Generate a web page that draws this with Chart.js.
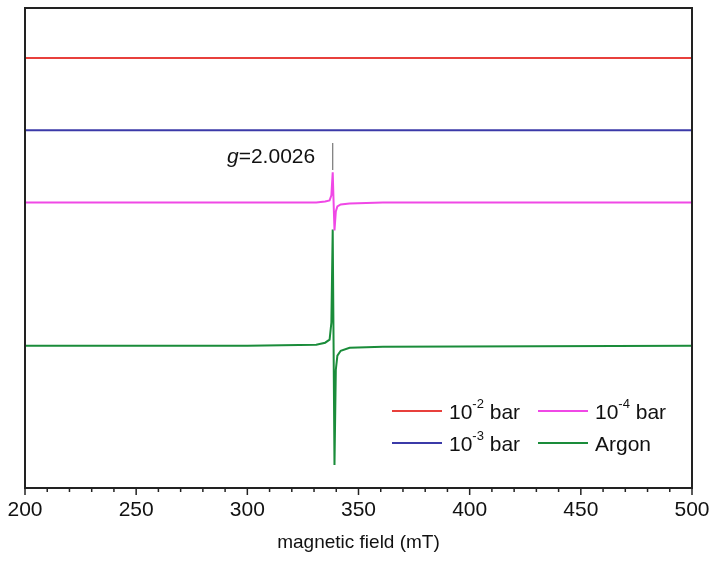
<!DOCTYPE html>
<html><head><meta charset="utf-8">
<script src="https://cdn.jsdelivr.net/npm/chart.js@4"></script>
<style>html,body{margin:0;padding:0;background:#fff}#w{width:719px;height:570px}</style>
</head><body><div id="w"><canvas id="c"></canvas></div>
<script>
const fieldX = [200, 300, 331, 335, 337, 337.8, 338.4, 338.8, 339.2, 339.8, 340.5, 342, 346, 361, 500];
const red    = [429, 429, 429, 429, 429, 429, 429, 429, 429, 429, 429, 429, 429, 429, 429];
const blue   = [357, 357, 357, 357, 357, 357, 357, 357, 357, 357, 357, 357, 357, 357, 357];
const magenta= [285, 285, 285, 286, 287, 292, 315, 285, 257, 276, 281, 283, 284, 285, 285];
const green  = [142, 142, 143, 145, 148, 165, 258, 140, 23, 118, 132, 137, 140, 141, 142];
const seriesNames = ['10-2 bar','10-3 bar','10-4 bar','Argon'];
const colors = ['#e8403c','#3b3aa8','#f048e6','#1a8c3a'];
const xTicks = [200,250,300,350,400,450,500];

const mk=(d)=>fieldX.map((x,i)=>({x,y:d[i]}));
const ds=[red,blue,magenta,green].map((d,i)=>({label:seriesNames[i],data:mk(d),borderColor:colors[i],borderWidth:2,pointRadius:0,tension:0}));
const F='"Liberation Sans", Arial';
const deco={id:'deco',afterDraw(ch){
  const c=ch.ctx,a=ch.chartArea,xs=ch.scales.x;
  c.save();
  c.strokeStyle='#222';c.lineWidth=2;
  c.strokeRect(a.left,a.top,a.right-a.left,a.bottom-a.top);
  c.lineWidth=1.5;
  for(let v=200;v<=500;v+=10){const p=xs.getPixelForValue(v);c.beginPath();c.moveTo(p,a.bottom);c.lineTo(p,a.bottom+(v%50===0?7:4));c.stroke();}
  c.fillStyle='#111';c.textBaseline='middle';
  c.font='italic 21px '+F;
  c.fillText('g',227,157);
  const gw=c.measureText('g').width;
  c.font='21px '+F;
  c.fillText('=2.0026',227+gw,157);
  const px=xs.getPixelForValue(338.4);
  c.strokeStyle='#777';c.lineWidth=1.2;c.beginPath();c.moveTo(px,143);c.lineTo(px,170);c.stroke();
  const items=[[392,411,0,'10','-2',' bar'],[538,411,2,'10','-4',' bar'],[392,443,1,'10','-3',' bar'],[538,443,3,'Argon','','']];
  items.forEach(([x,y,ci,b,s,t])=>{
    c.strokeStyle=colors[ci];c.lineWidth=2;c.beginPath();c.moveTo(x,y);c.lineTo(x+50,y);c.stroke();
    let tx=x+57;c.fillStyle='#111';c.font='21px '+F;c.textBaseline='middle';
    c.fillText(b,tx,y+2);tx+=c.measureText(b).width;
    if(s){c.font='13px '+F;c.fillText(s,tx,y-7);tx+=c.measureText(s).width;c.font='21px '+F;c.fillText(t,tx,y+2);}
  });
  c.restore();
}};

new Chart(document.getElementById('c'),{type:'line',data:{datasets:ds},plugins:[deco],
options:{responsive:true,maintainAspectRatio:false,animation:false,
layout:{padding:{left:25,right:27,top:8,bottom:12}},
plugins:{legend:{display:false},tooltip:{enabled:false}},
scales:{
 x:{type:'linear',min:200,max:500,afterBuildTicks:s=>{s.ticks=xTicks.map(v=>({value:v}));},
   grid:{display:false,drawTicks:true,tickLength:8},border:{display:false},
   ticks:{color:'#111',font:{family:F,size:21},padding:2,maxRotation:0},
   title:{display:true,text:'magnetic field (mT)',color:'#111',font:{family:F,size:19},padding:{top:6}}},
 y:{display:false,min:0,max:479}
}}});
</script></body></html>
